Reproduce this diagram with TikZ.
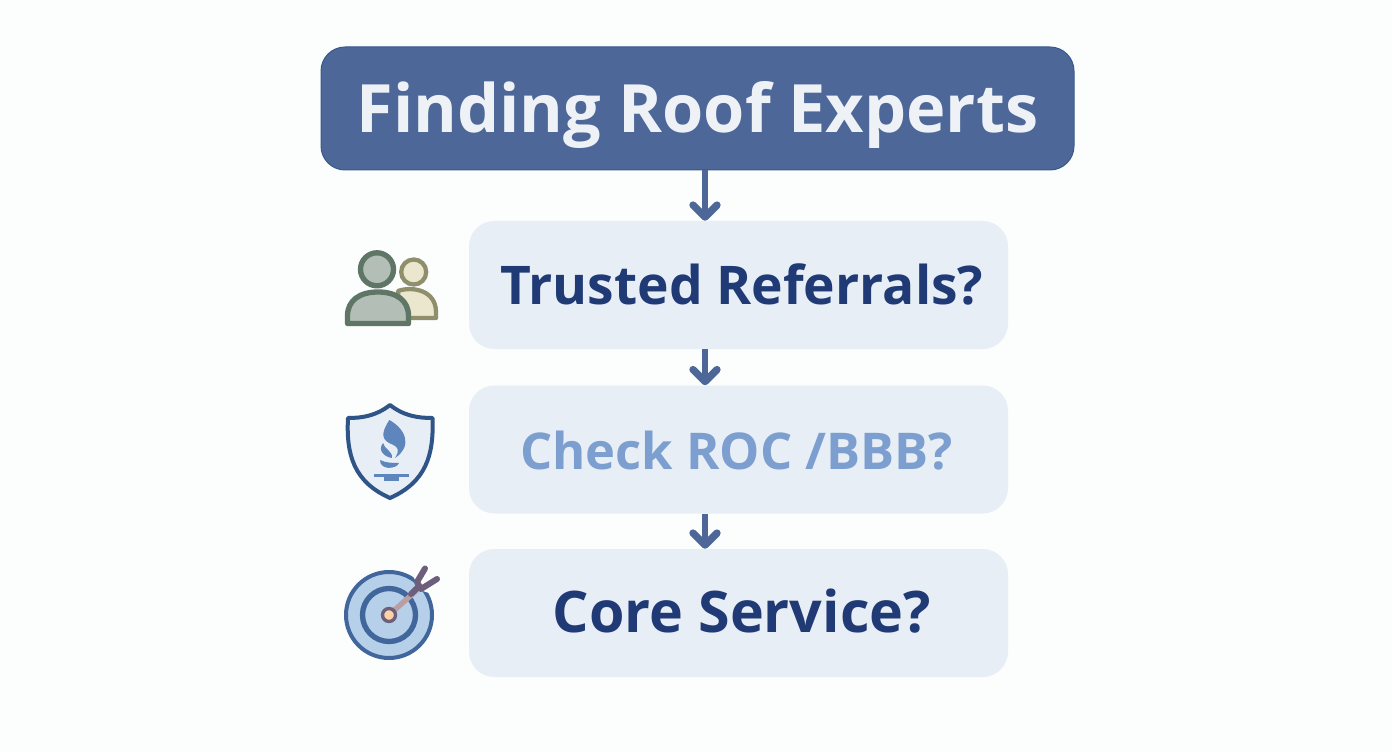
\documentclass[tikz,border=0pt]{standalone}
\usepackage{fontspec}
\setmainfont{Open Sans}
\usetikzlibrary{arrows.meta}
\definecolor{pageBg}{HTML}{FCFDFD}
\definecolor{titleBlue}{HTML}{4C6798}
\definecolor{boxBlue}{HTML}{E8EEF5}
\definecolor{titleText}{HTML}{EEF2F7}
\definecolor{darkText}{HTML}{1F3A75}
\definecolor{lightText}{HTML}{7C9FD0}
\definecolor{shieldLine}{HTML}{2F5488}
\definecolor{flameBlue}{HTML}{5F86BC}
\definecolor{ringBlue}{HTML}{40669C}
\definecolor{ringFill}{HTML}{B5D0E8}
\definecolor{bigLine}{HTML}{5F7566}
\definecolor{bigFill}{HTML}{B3BFB6}
\definecolor{smallLine}{HTML}{908F6C}
\definecolor{smallFill}{HTML}{EBE7CF}
\definecolor{forkLine}{HTML}{6D5F7C}
\definecolor{shaftLine}{HTML}{B99EA3}
\tikzset{
  titlebox/.style={fill=titleBlue,draw=shieldLine!70!titleBlue,line width=0.75pt,rounded corners=18pt,minimum width=564.75pt,minimum height=92.25pt,text=titleText,text height=35.7pt,text depth=0pt,font=\bfseries\fontsize{50}{58}\selectfont},
  stepbox/.style={fill=boxBlue,rounded corners=19pt,minimum width=404.25pt,minimum height=96pt,text=darkText,text height=28.6pt,text depth=0pt,font=\bfseries\fontsize{40}{48}\selectfont},
  flowarrow/.style={draw=titleBlue,line width=4.5pt,-{Straight Barb[length=9pt,width=18pt,line width=5.5pt,line join=round,line cap=round]}},
}
\begin{document}
\begin{tikzpicture}[x=0.75pt,y=0.75pt,yscale=-1,xscale=1]
\fill[pageBg] (0,0) rectangle (1392,752);
\useasboundingbox (0,0) rectangle (1392,752);

% Text Node
\node [titlebox] (title) at (697.5,108.5) {Finding Roof Experts};
\node [stepbox] (referrals) at (738.5,285) {\hspace*{5pt}Trusted Referrals?};
\node [stepbox,text=lightText,text height=29.5pt,font=\bfseries\fontsize{38}{46}\selectfont] (check) at (738.5,449.5) {\hspace*{-3pt}Check ROC /BBB?};
\node [stepbox,font=\bfseries\fontsize{43}{50}\selectfont] (core) at (738.5,613) {\hspace*{5pt}Core Service?};

\coordinate (axis) at (705,0);
%Straight Lines
\draw [flowarrow] (title.south -| axis) -- (referrals.north -| axis);
\draw [flowarrow] (referrals.south -| axis) -- (check.north -| axis);
\draw [flowarrow] (check.south -| axis) -- (core.north -| axis);

%Shape: small person
\draw [draw=smallLine,line width=3.2pt,fill=smallFill,line join=round] (398,291) .. controls (412,286) and (436,290) .. (436,312) -- (436,318) -- (400,318) -- cycle ;
\draw [draw=smallLine,line width=3.2pt,fill=smallFill] (413.7,272) circle (12.5);
%Shape: big person
\draw [draw=bigLine,line width=4pt,fill=bigFill,line join=round] (347.5,323.5) -- (347.5,316) .. controls (347.5,300) and (360,292) .. (378,292) .. controls (396,292) and (408.5,300) .. (408.5,316) -- (408.5,323.5) -- cycle ;
\draw [draw=bigLine,line width=4pt,fill=bigFill] (377,269.3) circle (16.5);

%Shape: shield
\draw [draw=shieldLine,line width=3pt,fill=boxBlue,line join=round] (390,405) .. controls (376,416) and (362,418) .. (348,418) .. controls (346,455) and (354,482) .. (390,498) .. controls (426,482) and (434,455) .. (432.5,418) .. controls (418,418) and (404,416) .. (390,405) -- cycle ;
%Shape: flame
\fill [flameBlue] (389.3,420) .. controls (404,428) and (414,445) .. (395,458) .. controls (400,450) and (399,447) .. (389,443) .. controls (380,438) and (383,430) .. (389.3,420) -- cycle ;
\fill [flameBlue] (383,443) .. controls (384,449) and (393,451) .. (392,458) .. controls (385,457) and (377,451) .. (383,443) -- cycle ;
\fill [flameBlue] (380,460) .. controls (386,463) and (393,463) .. (399,463) .. controls (397,469) and (380,471) .. (380,460) -- cycle ;
\fill [flameBlue] (373.5,473.5) rectangle (408.5,477);
\fill [flameBlue] (383.5,477) rectangle (398.5,480.5);

%Shape: target
\fill [ringFill] (389,615) circle (43);
\draw [draw=ringBlue,line width=3pt] (389,615) circle (43);
\draw [draw=ringBlue,line width=4pt] (389,615) circle (26.5);
\fill [pageBg] (409,568) -- (442,569) -- (438,596) -- (420,590) -- cycle;
%Shape: dart
\draw [draw=shaftLine,line width=4pt,line cap=round] (389,615) -- (417,590);
\draw [draw=forkLine,line width=4.5pt,line cap=round,line join=round] (425,568.5) -- (417,582) -- (421,589) -- (437,579);
\draw [draw=forkLine,line width=4.5pt,line cap=round] (419,586) -- (411,594);
\draw [draw=forkLine,fill=orange!35!white,line width=2.5pt] (389,615) circle (6.5);
\end{tikzpicture}
\end{document}
